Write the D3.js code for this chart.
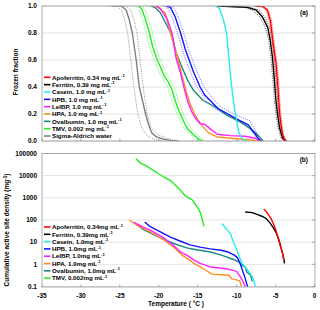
<!DOCTYPE html>
<html><head><meta charset="utf-8">
<script src="https://cdn.jsdelivr.net/npm/d3@7"></script>
<style>body{margin:0;background:#fff}svg{display:block}text{font-family:"Liberation Sans",Arial,sans-serif;font-weight:bold}</style>
</head><body><svg id="c" width="320" height="310"></svg>
<script>
// ---------- DATA ----------
const names = ["Apoferritin, 0.34 mg mL","Ferritin, 0.39 mg mL","Casein, 1.0 mg mL","HPB, 1.0 mg mL","LeIBP, 1.0 mg mL","HPA, 1.0 mg mL","Ovalbumin, 1.0 mg mL","TMV, 0.002 mg mL","Sigma-Aldrich water"];
const namesB = ["Apoferritin, 0.34mg mL","Ferritin, 0.39mg mL","Casein, 1.0mg mL","HPB, 1.0mg mL","LeIBP, 1.0mg mL","HPA, 1.0mg mL","Ovalbumin, 1.0mg mL","TMV, 0.002mg mL"];
const colors = ["#ff0000","#000000","#22eeee","#1414ff","#ff22ff","#ff9020","#178a80","#22ee22","#808080"];
const xTicks = [-35,-30,-25,-20,-15,-10,-5,0];
const yTicksA = [0,0.2,0.4,0.6,0.8,1.0];
const yTicksB = [0.1,1,10,100,1000,10000,100000];

// Panel (a): frozen fraction [T, f]
const apoA = [[-7.6,1],[-6.6,0.995],[-6.05,0.97],[-5.66,0.89],[-5.3,0.72],[-4.95,0.58],[-4.72,0.42],[-4.5,0.22],[-4.3,0.12],[-4.1,0.05],[-3.85,0.01],[-3.6,0]];
const ferA = [[-12.4,1],[-8.6,0.99],[-7.5,0.97],[-6.7,0.92],[-6.0,0.84],[-5.7,0.75],[-5.4,0.62],[-5.15,0.45],[-4.95,0.3],[-4.75,0.2],[-4.5,0.1],[-4.1,0.02],[-3.7,0]];
const casA = [[-12.7,1],[-12.2,0.98],[-11.7,0.9],[-11.3,0.8],[-11.0,0.62],[-10.7,0.43],[-10.3,0.25],[-10.0,0.15],[-9.7,0.06],[-9.3,0.02],[-8.8,0]];
const hpbA = [[-19,1],[-18.5,0.99],[-17.9,0.92],[-17.2,0.8],[-16.6,0.68],[-16.1,0.6],[-15.6,0.52],[-14.7,0.4],[-14.1,0.34],[-13.4,0.3],[-12.4,0.24],[-11.1,0.2],[-9.9,0.16],[-9.2,0.14],[-8.5,0.12],[-8.0,0.08],[-7.6,0.05],[-7.2,0.015],[-6.9,0]];
const leiA = [[-20.3,1],[-19.8,0.98],[-18.9,0.9],[-18.3,0.8],[-17.8,0.62],[-17.2,0.5],[-16.7,0.38],[-16.2,0.28],[-15.8,0.22],[-15.3,0.17],[-14.7,0.13],[-14.0,0.12],[-13.4,0.09],[-12.5,0.05],[-10.8,0.04],[-8.9,0.035],[-7.6,0.02],[-6.7,0]];
const hpaA = [[-20.6,1],[-20.1,0.99],[-19.2,0.95],[-18.5,0.8],[-17.9,0.68],[-17.5,0.6],[-17.0,0.48],[-16.5,0.37],[-16.0,0.28],[-15.4,0.2],[-14.9,0.15],[-14.4,0.11],[-13.6,0.06],[-12.5,0.03],[-9.5,0.015],[-6.9,0]];
const ovaA = [[-21,1],[-20.5,0.99],[-19.8,0.95],[-18.9,0.85],[-18.3,0.78],[-17.8,0.66],[-17.2,0.57],[-16.3,0.45],[-15.6,0.38],[-14.3,0.3],[-12.7,0.25],[-11.2,0.19],[-9.5,0.14],[-8.2,0.09],[-7.2,0.04],[-6.6,0]];
const tmvA = [[-22.6,1],[-22.2,0.98],[-21.7,0.9],[-21.2,0.8],[-20.8,0.7],[-20.2,0.6],[-19.8,0.55],[-19.3,0.48],[-18.8,0.44],[-18.3,0.38],[-17.9,0.3],[-17.4,0.22],[-17.0,0.17],[-16.6,0.12],[-16.3,0.09],[-15.6,0.05],[-15.0,0.02],[-14.4,0]];
const watA = [[-26,1],[-24.8,1],[-24.2,0.97],[-23.8,0.9],[-23.4,0.8],[-22.9,0.6],[-22.5,0.4],[-22.1,0.3],[-21.7,0.2],[-21.3,0.12],[-20.9,0.06],[-20.3,0.03],[-19.5,0.015],[-18.5,0.005],[-17.5,0]];

// Panel (a): uncertainty bounds [T, f]
const watLo = [[-26.5,1],[-25.4,1],[-24.8,0.97],[-24.4,0.9],[-24.0,0.8],[-23.6,0.6],[-23.2,0.4],[-22.7,0.2],[-22.2,0.1],[-21.5,0.04],[-20.5,0.01],[-19.5,0]];
const watHi = [[-25.5,1],[-24.2,1],[-23.6,0.97],[-23.2,0.9],[-22.8,0.8],[-22.4,0.6],[-22.0,0.4],[-21.5,0.2],[-21.0,0.1],[-20.2,0.05],[-19.0,0.02],[-17.5,0]];
const tmvLo = [[-23,1],[-22.6,0.98],[-22.1,0.9],[-21.6,0.8],[-21.2,0.7],[-20.6,0.6],[-19.9,0.5],[-19.0,0.42],[-18.3,0.3],[-17.5,0.18],[-16.8,0.1],[-16.0,0.05],[-15.0,0]];
const tmvHi = [[-22.2,1],[-21.8,0.98],[-21.3,0.9],[-20.8,0.8],[-20.4,0.7],[-19.8,0.6],[-19.0,0.5],[-18.0,0.4],[-17.4,0.28],[-16.6,0.17],[-15.8,0.09],[-15.2,0.05],[-14.0,0]];
const hpbLo = [[-19.4,1],[-18.9,0.99],[-18.3,0.92],[-17.6,0.8],[-16.9,0.66],[-16.0,0.52],[-15.1,0.4],[-13.8,0.29],[-12.8,0.24],[-11.5,0.2],[-10.3,0.17],[-8.9,0.13],[-8.0,0.07],[-7.4,0.015],[-7.1,0]];
const hpbHi = [[-18.6,1],[-18.1,0.99],[-17.5,0.92],[-16.8,0.8],[-16.2,0.68],[-15.2,0.53],[-14.3,0.41],[-13.0,0.31],[-12.0,0.25],[-10.7,0.21],[-9.5,0.18],[-8.3,0.15],[-7.5,0.07],[-7.0,0.015],[-6.7,0]];
const ferLo = [[-12.4,1],[-9,0.99],[-8,0.97],[-7.0,0.92],[-6.3,0.84],[-5.9,0.75],[-5.6,0.62],[-5.35,0.45],[-5.15,0.3],[-4.95,0.2],[-4.7,0.1],[-4.3,0.02],[-3.9,0]];
const ferHi = [[-12.4,1],[-8.2,0.99],[-7.1,0.97],[-6.4,0.92],[-5.75,0.84],[-5.45,0.75],[-5.2,0.62],[-4.95,0.45],[-4.75,0.3],[-4.55,0.2],[-4.3,0.1],[-3.9,0.02],[-3.5,0]];
const apoLo = [[-7.8,1],[-6.8,0.995],[-6.2,0.97],[-5.8,0.89],[-5.45,0.72],[-5.1,0.58],[-4.87,0.42],[-4.65,0.22],[-4.45,0.12],[-4.25,0.05],[-4.0,0.01],[-3.75,0]];
const apoHi = [[-7.4,1],[-6.4,0.995],[-5.9,0.97],[-5.5,0.89],[-5.15,0.72],[-4.8,0.58],[-4.57,0.42],[-4.35,0.22],[-4.15,0.12],[-3.95,0.05],[-3.7,0.01],[-3.45,0]];

// Panel (b): cumulative active site density [T, mg^-1]
const apoB = [[-6.5,310],[-6.2,240],[-5.9,170],[-5.6,120],[-5.3,70],[-5.0,38],[-4.8,22],[-4.6,12.5],[-4.4,7],[-4.2,4.3],[-4.0,2],[-3.95,1.5]];
const ferB = [[-8.9,230],[-8.0,215],[-7.3,175],[-6.6,140],[-6.2,115],[-5.7,72],[-5.3,45],[-5.0,30],[-4.7,17],[-4.5,10.5],[-4.3,5.5],[-4.1,3.2],[-3.95,1.8],[-3.85,1.1]];
const casB = [[-11.9,70],[-11.2,35],[-10.8,24],[-10.4,10],[-9.95,4.3],[-9.6,2],[-9.3,1.1],[-8.9,0.75],[-8.4,0.45],[-8.0,0.28],[-7.8,0.19],[-7.6,0.1]];
const hpbB = [[-21.8,80],[-21.1,50],[-19.8,29],[-18.5,17],[-17.2,11],[-16.0,7.5],[-14.7,6],[-13.4,5],[-12.0,4.3],[-11.0,3.5],[-10.3,2.6],[-9.9,2.0],[-9.6,1.2],[-9.3,0.6],[-9.0,0.3],[-8.6,0.1]];
const leiB = [[-23.2,80],[-22.8,66],[-22.0,48],[-21.1,35],[-20.2,23],[-19.4,16],[-18.7,10],[-18.1,7],[-17.2,3.6],[-16.4,2.6],[-15.5,1.6],[-14.7,1.1],[-13.9,0.9],[-13.4,0.76],[-12.5,0.7],[-11.2,0.62],[-10.0,0.48],[-9.6,0.3],[-9.3,0.2],[-8.9,0.1]];
const hpaB = [[-23.8,100],[-22.8,59],[-22.0,42],[-21.1,29],[-20.2,19],[-19.4,13],[-18.7,8.5],[-18.1,6],[-17.5,3.8],[-17.0,2.6],[-16.0,1.5],[-15.3,1.0],[-14.7,0.76],[-13.8,0.5],[-13.2,0.36],[-12.0,0.34],[-11.0,0.32],[-10.6,0.22],[-10.0,0.2],[-9.6,0.18],[-9.4,0.1]];
const ovaB = [[-22.8,60],[-22.0,38],[-21.1,26],[-20.0,17],[-19.0,12],[-18.1,8.7],[-17.2,6.8],[-16.4,5.5],[-15.5,4.8],[-14.7,4.3],[-13.4,3.6],[-12.4,2.9],[-11.5,2.3],[-10.5,1.7],[-9.7,1.26],[-9.3,0.9],[-8.9,0.76],[-8.7,0.45],[-8.2,0.32],[-8.0,0.17]];
const tmvB = [[-22.9,57500],[-22.4,38000],[-21.5,26300],[-20.2,13200],[-19.3,8500],[-18.5,6000],[-17.7,3240],[-17.0,1780],[-16.5,1150],[-15.9,890],[-15.7,810],[-15.2,450],[-14.8,280],[-14.5,140],[-14.2,52]];

// ---------- DRAW ----------
const svg = d3.select("#c");
const L = 42, R = 315;
const x = d3.scaleLinear().domain([-35,0]).range([L,314.5]);
const yA = d3.scaleLinear().domain([0,1]).range([141,6]);
const yB = d3.scaleLog().domain([0.1,100000]).range([286.5,153.5]);
const FS = 6.5, LFS = 6.2;

function panel(y, ticks, fmt, top, bot, id) {
  const g = svg.append("g");
  g.selectAll("line.grid").data(ticks).enter().append("line")
    .attr("x1",L).attr("x2",R).attr("y1",d=>y(d)).attr("y2",d=>y(d))
    .attr("stroke","#dcdcdc").attr("stroke-width",0.8);
  svg.append("clipPath").attr("id",id).append("rect").attr("x",L).attr("y",top).attr("width",R-L).attr("height",bot-top);
  g.selectAll("text.yt").data(ticks).enter().append("text")
    .attr("x",37).attr("y",d=>y(d)+2.3).attr("text-anchor","end").attr("font-size",FS).text(fmt);
  g.selectAll("line.rt").data(ticks).enter().append("line")
    .attr("x1",R-3).attr("x2",R).attr("y1",d=>y(d)).attr("y2",d=>y(d)).attr("stroke","#888").attr("stroke-width",0.7);
  g.selectAll("line.bt").data(xTicks).enter().append("line")
    .attr("x1",d=>x(d)).attr("x2",d=>x(d)).attr("y1",bot-2.5).attr("y2",bot).attr("stroke","#888").attr("stroke-width",0.7);
  return g;
}
panel(yA, yTicksA, d=>d3.format(".1f")(d), 6, 141, "clipA");
panel(yB, yTicksB, d=>String(d), 153.5, 287, "clipB");

const lineA = d3.line().x(d=>x(d[0])).y(d=>yA(d[1]));
const lineB = d3.line().x(d=>x(d[0])).y(d=>yB(Math.max(d[1],0.05)));

const pa = svg.append("g").attr("clip-path","url(#clipA)");
const bounds = [[watLo,"#909090"],[watHi,"#909090"],[tmvLo,"#66ee66"],[tmvHi,"#66ee66"],[hpbLo,"#6a6aff"],[hpbHi,"#6a6aff"],[ferLo,"#555"],[ferHi,"#555"],[apoLo,"#ff5050"],[apoHi,"#ff5050"]];
bounds.forEach(([d,c])=>pa.append("path").attr("d",lineA(d)).attr("fill","none").attr("stroke",c).attr("stroke-width",1).attr("stroke-dasharray","1,1.3"));
const seriesA = [[watA,8],[tmvA,7],[ovaA,6],[hpaA,5],[leiA,4],[hpbA,3],[casA,2],[ferA,1],[apoA,0]];
seriesA.forEach(([d,i])=>pa.append("path").attr("d",lineA(d)).attr("fill","none").attr("stroke",colors[i]).attr("stroke-width",1.4).attr("stroke-linejoin","round"));

const pb = svg.append("g").attr("clip-path","url(#clipB)");
const seriesB = [[tmvB,7],[ovaB,6],[hpaB,5],[leiB,4],[hpbB,3],[casB,2],[ferB,1],[apoB,0]];
seriesB.forEach(([d,i])=>pb.append("path").attr("d",lineB(d)).attr("fill","none").attr("stroke",colors[i]).attr("stroke-width",1.4).attr("stroke-linejoin","round"));

svg.append("rect").attr("x",L).attr("y",6).attr("width",R-L).attr("height",135).attr("fill","none").attr("stroke","#999").attr("stroke-width",0.8);
svg.append("rect").attr("x",L).attr("y",153.5).attr("width",R-L).attr("height",133.5).attr("fill","none").attr("stroke","#999").attr("stroke-width",0.8);

svg.selectAll("text.xt").data(xTicks).enter().append("text")
  .attr("x",d=>x(d)).attr("y",297.5).attr("text-anchor","middle").attr("font-size",FS).text(d=>d);

svg.append("text").attr("x",308).attr("y",15).attr("text-anchor","end").attr("font-size",FS).text("(a)");
svg.append("text").attr("x",308).attr("y",162).attr("text-anchor","end").attr("font-size",FS).text("(b)");

svg.append("text").attr("x",176).attr("y",306).attr("text-anchor","middle").attr("font-size",FS).text("Temperature ( °C )");
svg.append("text").attr("transform","translate(18,72) rotate(-90)").attr("text-anchor","middle").attr("font-size",FS).text("Frozen  fraction");
const yt = svg.append("text").attr("transform","translate(9,230) rotate(-90)").attr("text-anchor","middle").attr("font-size",FS);
yt.append("tspan").text("Cumulative active site density  (mg");
yt.append("tspan").attr("font-size",4.5).attr("dy",-2.5).text("-1");
yt.append("tspan").attr("dy",2.5).text(")");

function legend(list, y0, step) {
  list.forEach((n,i)=>{
    const yy = y0 + i*step;
    svg.append("line").attr("x1",44).attr("x2",50.5).attr("y1",yy).attr("y2",yy).attr("stroke",colors[i]).attr("stroke-width",1.6);
    const t = svg.append("text").attr("x",52).attr("y",yy+2.2).attr("font-size",LFS);
    t.append("tspan").text(n);
    if (i<8) t.append("tspan").attr("font-size",4.2).attr("dy",-2.6).text("-1");
  });
}
legend(names, 77.3, 7.34);
legend(namesB, 227, 7.3);
</script></body></html>
